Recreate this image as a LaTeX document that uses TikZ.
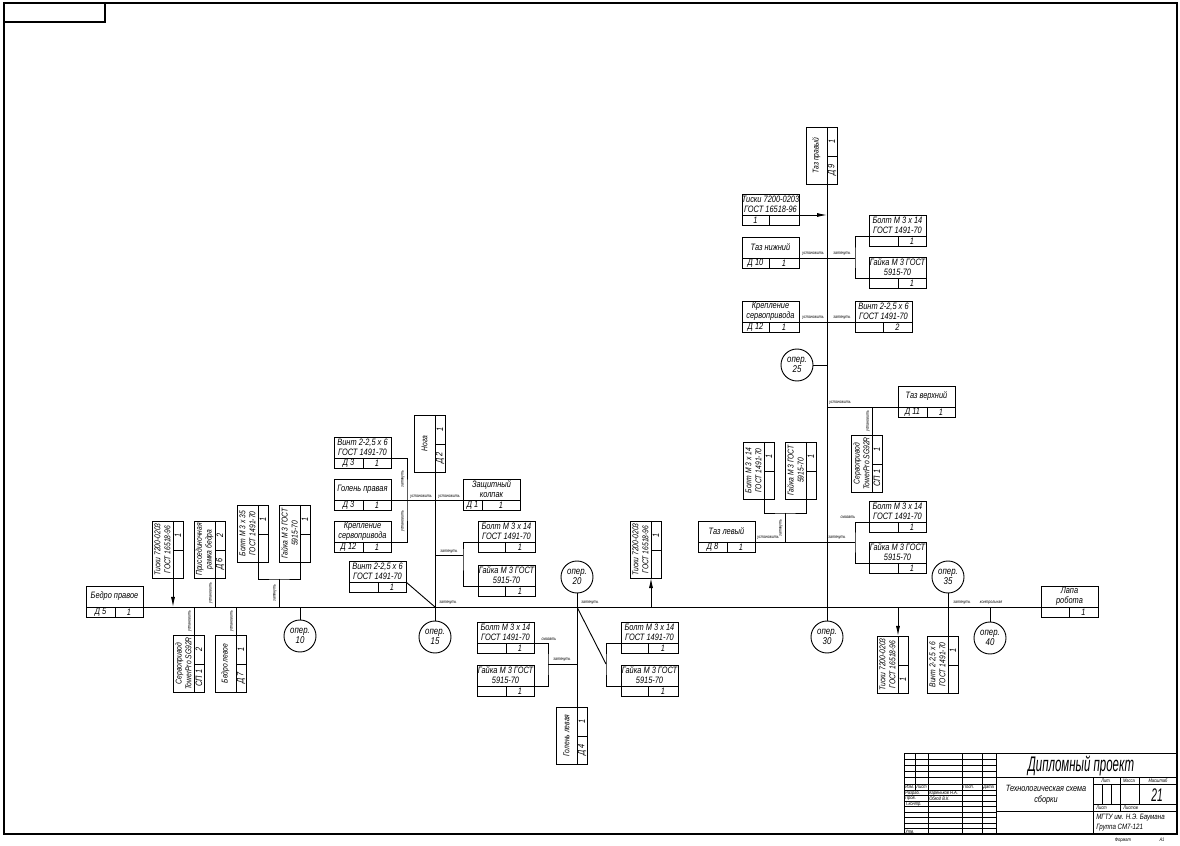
\documentclass[tikz,border=0pt]{standalone}
\usepackage{fontspec}
\setmainfont[FakeStretch=0.8]{Liberation Sans}
\usetikzlibrary{arrows.meta}
\tikzset{
  hpart/.style = {rectangle, draw, line width=0.65pt, minimum width=1.425cm, minimum height=0.775cm, inner sep=0pt, anchor=north west},
  vpart/.style = {rectangle, draw, line width=0.65pt, minimum width=0.775cm, minimum height=1.425cm, inner sep=0pt, anchor=north west},
  ptext/.style = {align=center, inner sep=0pt, font=\fontsize{6.6}{7}\selectfont\itshape},
  vtext/.style = {align=center, inner sep=0pt, font=\fontsize{6}{7}\selectfont\itshape},
  pcell/.style = {inner sep=0pt, font=\fontsize{6.6}{7}\selectfont\itshape},
  oper/.style = {circle, draw, line width=0.65pt, minimum size=0.8cm, inner sep=0pt, align=center, font=\fontsize{7}{7.5}\selectfont\itshape},
  act/.style = {inner sep=0.3pt, font=\fontsize{3.2}{3.5}\selectfont\itshape},
  link/.style = {line width=0.65pt},
  arrow/.style = {link, -{Latex[length=2.5mm, width=1mm]}},
  tb/.style = {line width=0.5pt},
  tbt/.style = {inner sep=0pt, font=\fontsize{3.6}{4}\selectfont\itshape}
}
% horizontal part box: [split]{name}{x}{y}{text}{code}{qty}
\newcommand{\partH}[7][29]{%
  \node[hpart] (#2) at (#3,#4) {};
  \coordinate (#2-l) at (#3,{#4+21});
  \coordinate (#2-r) at ({#3+57},{#4+21});
  \draw[link] (#2-l) -- (#2-r) ({#3+#1},{#4+21}) -- ({#3+#1},{#4+31});
  \node[ptext] (#2-name) at ({#3+28.5},{#4+10.5}) {#5};
  \node[pcell] (#2-code) at ({#3+#1/2},{#4+26}) {#6};
  \node[pcell] (#2-qty) at ({#3+28.5+#1/2},{#4+26}) {#7};
}
% vertical part box: [split]{name}{x}{y}{text}{top}{bottom}
\newcommand{\partV}[7][29]{%
  \node[vpart] (#2) at (#3,#4) {};
  \coordinate (#2-t) at ({#3+21},#4);
  \coordinate (#2-b) at ({#3+21},{#4+57});
  \draw[link] (#2-t) -- (#2-b) ({#3+21},{#4+#1}) -- ({#3+31},{#4+#1});
  \node[vtext, rotate=90] (#2-name) at ({#3+10.5},{#4+28.5}) {#5};
  \node[pcell, rotate=90] (#2-qty) at ({#3+26},{#4+#1/2}) {#6};
  \node[pcell, rotate=90] (#2-code) at ({#3+26},{#4+28.5+#1/2}) {#7};
}

\begin{document}
\begin{tikzpicture}[x=0.025cm, y=-0.025cm]
\useasboundingbox (0,0) rectangle (1180,846);

% frame
\draw[line width=0.8pt] (4,3) rectangle (1177,834);
\draw[line width=0.8pt] (4,22) -| (105,3);

% parts
\partH{bedroR}{86}{586}{Бедро правое}{Д 5}{1}
\partV{tiski1}{152}{521}{Тиски 7200-0203\\ГОСТ 16518-96}{1}{}
\partV{ramka}{194}{521}{Присоединочная\\рамка бедра}{2}{Д 6}
\partV{bolt35}{237}{505}{Болт М 3 х 35\\ГОСТ 1491-70}{1}{}
\partV{gaykaV1}{279}{505}{Гайка М 3 ГОСТ\\5915-70}{1}{}
\partV{servo1}{173}{635}{Сервопривод\\TowerPro SG92R}{2}{СП 1}
\partV{bedroL}{215}{635}{Бедро левое}{1}{Д 7}

\partV{noga}{414}{415}{Нога}{1}{Д 2}
\partH{vint1}{334}{437}{Винт 2-2,5 х 6\\ГОСТ 1491-70}{Д 3}{1}
\partH{golenR}{334}{479}{Голень правая}{Д 3}{1}
\partH{krepl1}{334}{521}{Крепление\\сервопривода}{Д 12}{1}
\partH[19]{kolpak}{463}{479}{Защитный\\колпак}{Д 1}{1}
\partH[27]{bolt1}{478}{521}{Болт М 3 х 14\\ГОСТ 1491-70}{}{1}
\partH[27]{gayka1}{478}{565}{Гайка М 3 ГОСТ\\5915-70}{}{1}
\partH{vint2}{349}{561}{Винт 2-2,5 х 6\\ГОСТ 1491-70}{}{1}

\partH{bolt2}{477}{622}{Болт М 3 х 14\\ГОСТ 1491-70}{}{1}
\partH{gayka2}{477}{665}{Гайка М 3 ГОСТ\\5915-70}{}{1}
\partH[27]{bolt3}{621}{622}{Болт М 3 х 14\\ГОСТ 1491-70}{}{1}
\partH[27]{gayka3}{621}{665}{Гайка М 3 ГОСТ\\5915-70}{}{1}
\partV{golenL}{556}{707}{Голень левая}{1}{Д 4}
\partV{tiski3}{630}{521}{Тиски 7200-0203\\ГОСТ 16518-96}{1}{}

\partV{tazP}{806}{127}{Таз правый}{1}{Д 9}
\partH[27]{tiski2}{742}{194}{Тиски 7200-0203\\ГОСТ 16518-96}{1}{}
\partH[27]{tazN}{742}{237}{Таз нижний}{Д 10}{1}
\partH{bolt4}{869}{215}{Болт М 3 х 14\\ГОСТ 1491-70}{}{1}
\partH{gayka4}{869}{257}{Гайка М 3 ГОСТ\\5915-70}{}{1}
\partH[27]{krepl2}{742}{301}{Крепление\\сервопривода}{Д 12}{1}
\partH[28]{vint3}{855}{301}{Винт 2-2,5 х 6\\ГОСТ 1491-70}{}{2}
\partH{tazV}{898}{386}{Таз верхний}{Д 11}{1}
\partV{servo2}{851}{435}{Сервопривод\\TowerPro SG92R}{1}{СП 1}
\partV{boltV2}{743}{442}{Болт М 3 х 14\\ГОСТ 1491-70}{1}{}
\partV{gaykaV2}{785}{442}{Гайка М 3 ГОСТ\\5915-70}{1}{}
\partH{tazL}{698}{521}{Таз левый}{Д 8}{1}
\partH{bolt5}{869}{501}{Болт М 3 х 14\\ГОСТ 1491-70}{}{1}
\partH{gayka5}{869}{542}{Гайка М 3 ГОСТ\\5915-70}{}{1}
\partV{tiski4}{877}{636}{Тиски 7200-0203\\ГОСТ 16518-96}{}{1}
\partV{vint4}{927}{636}{Винт 2-2,5 х 6\\ГОСТ 1491-70}{1}{}
\partH[28]{lapa}{1041}{586}{Лапа\\робота}{}{1}

% operations
\node[oper] (op10) at (300,636) {опер.\\10};
\node[oper] (op15) at (435,637) {опер.\\15};
\node[oper] (op20) at (577,577) {опер.\\20};
\node[oper] (op25) at (797,365) {опер.\\25};
\node[oper] (op30) at (827,637) {опер.\\30};
\node[oper] (op35) at (948,577) {опер.\\35};
\node[oper] (op40) at (990,638) {опер.\\40};

% junctions
\coordinate (br1) at (279,579);
\coordinate (br2) at (407,500);
\coordinate (br3) at (463,555);
\coordinate (br4) at (548,664);
\coordinate (br5) at (606,664);
\coordinate (br6) at (855,258);
\coordinate (br7) at (785,513);
\coordinate (br8) at (855,542);

% main line
\draw[link] (bedroR-r) -- (lapa-l);
\draw[arrow] (tiski1-b) -- (tiski1-b |- bedroR-r);
\draw[link] (ramka-b) -- (ramka-b |- bedroR-r);
\draw[link] (bolt35-b) |- (br1) -| (gaykaV1-b);
\draw[link] (br1) -- (br1 |- bedroR-r);
\draw[link] (servo1-t |- bedroR-r) -- (servo1-t);
\draw[link] (bedroL-t |- bedroR-r) -- (bedroL-t);
\draw[link] (op10 |- bedroR-r) -- (op10.north);

\draw[link] (noga-b) -- (op15.north);
\draw[link] (golenR-r) -- (kolpak-l);
\draw[link] (vint1-r) -| (br2) |- (krepl1-r);
\draw[link] (bolt1-l) -| (br3) |- (gayka1-l);
\draw[link] (noga-b |- br3) -- (br3);
\draw[link] (vint2-r) -- (noga-b |- bedroR-r);

\draw[link] (op20.south) -- (golenL-t);
\draw[link] (bolt2-r) -| (br4) |- (gayka2-r);
\draw[link] (br4) -- (golenL-t |- br4);
\draw[link] (golenL-t |- bedroR-r) -- (br5);
\draw[link] (bolt3-l) -| (br5) |- (gayka3-l);
\draw[arrow] (tiski3-b |- bedroR-r) -- (tiski3-b);

\draw[link] (tazP-b) -- (op30.north);
\draw[arrow] (tiski2-r) -- (tazP-b |- tiski2-r);
\draw[link] (tazN-r) -- (br6);
\draw[link] (bolt4-l) -| (br6) |- (gayka4-l);
\draw[link] (krepl2-r) -- (vint3-l);
\draw[link] (op25.east) -- (tazP-b |- op25.east);
\draw[link] (tazP-b |- tazV-l) -- (tazV-l);
\draw[link] (servo2-t) -- (servo2-t |- tazV-l);
\draw[link] (boltV2-b) |- (br7) -| (gaykaV2-b);
\draw[link] (br7) -- (br7 |- tazL-r);
\draw[link] (tazL-r) -- (br8);
\draw[link] (bolt5-l) -| (br8) |- (gayka5-l);

\draw[link] (op35.south) -- (vint4-t);
\draw[arrow] (tiski4-t |- bedroR-r) -- (tiski4-t);
\draw[link] (op40 |- bedroR-r) -- (op40.north);

% actions
\node[act, rotate=90] (a1) at (211,593) {установить};
\node[act, rotate=90] (a2) at (275,593) {затянуть};
\node[act, rotate=90] (a3) at (190,621) {установить};
\node[act, rotate=90] (a4) at (232,621) {установить};
\node[act, rotate=90] (a5) at (403,479) {затянуть};
\node[act, rotate=90] (a6) at (403,521) {установить};
\node[act] (a7) at (421,497) {установить};
\node[act] (a8) at (449,497) {установить};
\node[act] (a9) at (449,552) {затянуть};
\node[act] (a10) at (448,603) {затянуть};
\node[act] (a11) at (549,639) {смазать};
\node[act] (a12) at (562,660) {затянуть};
\node[act] (a13) at (590,603) {затянуть};
\node[act] (a14) at (813,254) {установить};
\node[act] (a15) at (842,254) {затянуть};
\node[act] (a16) at (813,318) {установить};
\node[act] (a17) at (842,318) {затянуть};
\node[act] (a18) at (840,403) {установить};
\node[act, rotate=90] (a19) at (868,421) {установить};
\node[act, rotate=90] (a20) at (781,528) {затянуть};
\node[act] (a21) at (768,538) {установить};
\node[act] (a22) at (837,538) {затянуть};
\node[act] (a23) at (848,517) {смазать};
\node[act] (a24) at (962,603) {затянуть};
\node[act] (a25) at (991,603) {контрольная};

% title block
\draw[tb] (904,753) rectangle (1177,834);
\foreach \ty in {759,765,771,777,784,790,795.5,801,806.5,812,817.5,823,828.5}
  \draw[tb] (904,\ty) -- (996,\ty);
\draw[tb] (915,753) -- (915,790);
\draw[tb] (928,753) -- (928,834);
\draw[tb] (962,753) -- (962,834);
\draw[tb] (982,753) -- (982,834);
\draw[tb] (996,753) -- (996,834);
\draw[tb] (996,777) -- (1177,777);
\draw[tb] (996,811) -- (1177,811);
\draw[tb] (1093,777) -- (1093,834);
\draw[tb] (1093,784) -- (1177,784);
\draw[tb] (1093,804) -- (1177,804);
\draw[tb] (1120,777) -- (1120,811);
\draw[tb] (1139,777) -- (1139,804);
\draw[tb] (1102,784) -- (1102,804);
\draw[tb] (1111,784) -- (1111,804);

\node[inner sep=0pt, font=\fontsize{15}{15}\selectfont\itshape] (t1) at (1081,766) {\scalebox{0.68}[1]{Дипломный проект}};
\node[inner sep=0pt, align=center, font=\fontsize{6.5}{8}\selectfont\itshape] (t2) at (1046,795) {Технологическая схема\\сборки};
\node[tbt] (t3) at (1106,780.5) {Лит.};
\node[tbt] (t4) at (1129,780.5) {Масса};
\node[tbt] (t5) at (1158,780.5) {Масштаб};
\node[inner sep=0pt, font=\fontsize{13}{13}\selectfont\itshape] (t6) at (1157,795) {\scalebox{0.7}[1]{21}};
\node[tbt, anchor=west] (t7) at (1096,807.5) {Лист};
\node[tbt, anchor=west] (t8) at (1123,807.5) {Листов};
\node[inner sep=0pt, anchor=west, font=\fontsize{5.5}{6}\selectfont\itshape] (t9) at (1096,817.5) {МГТУ им. Н.Э. Баумана};
\node[inner sep=0pt, anchor=west, font=\fontsize{5.5}{6}\selectfont\itshape] (t10) at (1096,827.5) {Группа СМ7-121};
\node[tbt, anchor=west] (t11) at (905,787) {Изм.};
\node[tbt, anchor=west] (t12) at (916,787) {Лист};
\node[tbt, anchor=west] (t13) at (963,787) {Подп.};
\node[tbt, anchor=west] (t14) at (983,787) {Дата};
\node[tbt, anchor=west] (t15) at (905,793) {Разраб.};
\node[tbt, anchor=west] (t16) at (929,793) {Кареньков Н.А.};
\node[tbt, anchor=west] (t17) at (905,798.5) {Пров.};
\node[tbt, anchor=west] (t18) at (929,798.5) {Обвод В.К.};
\node[tbt, anchor=west] (t19) at (905,804) {Т.контр.};
\node[tbt, anchor=west] (t20) at (905,831.5) {Утв.};
\node[tbt] (t21) at (1123,840) {Формат};
\node[tbt] (t22) at (1162,840) {А1};
\end{tikzpicture}
\end{document}
